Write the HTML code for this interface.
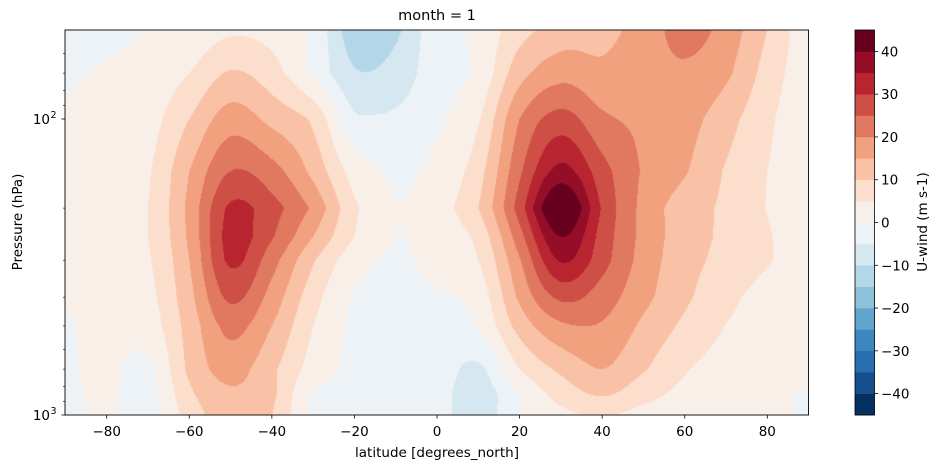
<!DOCTYPE html>
<html><head><meta charset="utf-8"><style>
html,body{margin:0;padding:0;background:#fff;}
#wrap{position:relative;width:942px;height:468px;overflow:hidden;font-family:"DejaVu Sans","Liberation Sans",sans-serif;}
#field{position:absolute;left:65px;top:30px;}
#ov{position:absolute;left:0;top:0;}
text{font-family:"DejaVu Sans","Liberation Sans",sans-serif;fill:#000;}
</style></head><body>
<div id="wrap">
<canvas id="field" width="743" height="385"></canvas>
<svg id="ov" width="942" height="468"></svg>
</div>
<script>
const lats = [-90,-80,-70,-60,-50,-40,-30,-20,-10,0,10,20,30,40,50,60,70,80,90];
const pressureLevels = [1000,850,700,500,400,300,250,200,150,100,70,50];
const u1000 = [-1,0.5,-2,7,13,10,-1,-1,-2,-3,-8,0,3.5,5.5,3,2,1.5,1,-0.5];
const u850  = [-1,1,-2,9,14,11,-0.5,-1,-2,-3,-8,0,7,10.5,7,3.5,2,1,-0.5];
const u700  = [-0.5,1,-1,11,17,11,3,-1,-1.5,-2,-6,5,11,15,10.5,5.5,3,2,1];
const u500  = [-0.5,2,2.5,12,21.5,15,5,-1,-1.5,-1,0.5,12,19,19.5,14,9,4.9,2.5,1];
const u400  = [0.5,2.5,3.5,13.5,26,18,7,-0.5,-1,-0.5,2,16,26,22.5,16.5,11,6.5,3,1];
const u300  = [1.5,3,4.5,15,31,22,10.5,2,-0.5,1.5,5,19.5,35.5,27,18,12,8.5,5.5,2];
const u250  = [2,3,5,16,32,25.5,15,5,0,2.5,6.5,23,40,28,18.5,12.5,9,5.5,2];
const u200  = [2,3,5,16.5,31,27,19,6,0.2,3,10,27.5,47,29.5,18.5,12.5,9,4.8,2];
const u150  = [1.5,3,4.5,15,25,22,13.5,3,-0.5,1.5,8,24,36.5,27,19.5,15.5,9.5,5,2];
const u100  = [0.5,2,3,10,17.5,13.5,9,-4,-4,-1,4.5,20,27,21,19,17,12,6,1.5];
const u70   = [-0.5,0.5,1.5,5,10.5,7,-1,-9.5,-8,-2,1,13,18,16,18,19,16,8,2];
const u50   = [-2,-1,0,1,4,3,-1,-13,-11,-1.5,1,8,12,13.5,17,22,18,10,2];
const windRows = [u1000,u850,u700,u500,u400,u300,u250,u200,u150,u100,u70,u50];
const contourLevels = [-45,-40,-35,-30,-25,-20,-15,-10,-5,0,5,10,15,20,25,30,35,40,45];
const xTicks = [-80,-60,-40,-20,0,20,40,60,80];
const cbTicks = [-40,-30,-20,-10,0,10,20,30,40];

const X0=65.4, X1=808.6, PY0=30, PY1=415;
function xScale(lat){return X0+(lat+90)/180*(X1-X0);}
function yScale(p){return 119+296*(Math.log10(p)-2);}
const cbTop=30, cbBot=415;
function cbScale(v){return cbBot-(v+45)/90*(cbBot-cbTop);}

const anchors=["#053061","#2166ac","#4393c3","#92c5de","#d1e5f0","#f7f7f7","#fddbc7","#f4a582","#d6604d","#b2182b","#67001f"];
function hex(h){return [parseInt(h.slice(1,3),16),parseInt(h.slice(3,5),16),parseInt(h.slice(5,7),16)];}
function cmap(t){const s=t*10;let i=Math.floor(s);if(i>=10)i=9;if(i<0)i=0;const f=s-i;const a=hex(anchors[i]),b=hex(anchors[i+1]);return [0,1,2].map(k=>Math.round(a[k]+(b[k]-a[k])*f));}
const nb=contourLevels.length-1;
const bandColors=[];for(let i=0;i<nb;i++)bandColors.push(cmap(i/(nb-1)));

function rowAt(row,fi){
  const n=row.length;let i=Math.floor(fi);if(i>=n-1)i=n-2;if(i<0)i=0;const t=fi-i;
  const p0=row[Math.max(i-1,0)],p1=row[i],p2=row[i+1],p3=row[Math.min(i+2,n-1)];
  let v=0.5*((2*p1)+(-p0+p2)*t+(2*p0-5*p1+4*p2-p3)*t*t+(-p0+3*p1-3*p2+p3)*t*t*t);
  const lo=Math.min(p1,p2),hi=Math.max(p1,p2);const m=(hi-lo)*0.15+0.5;
  return Math.max(lo-m,Math.min(hi+m,v));
}
const cv=document.getElementById('field');const ctx=cv.getContext('2d');
const img=ctx.createImageData(743,385);
const lpl=pressureLevels.map(p=>Math.log10(p));
for(let py=0;py<385;py++){
  const y=PY0+py+0.5;const lp=2+(y-119)/296;
  let j=0;while(j<lpl.length-2&&lp<lpl[j+1])j++;
  let t=(lpl[j]-lp)/(lpl[j]-lpl[j+1]);t=Math.max(0,Math.min(1,t));
  for(let px=0;px<743;px++){
    const x=65+px+0.5;const lat=-90+(x-X0)/(X1-X0)*180;
    const fi=(lat-lats[0])/10;
    const v=rowAt(windRows[j],fi)*(1-t)+rowAt(windRows[j+1],fi)*t;
    let b=Math.floor((v-contourLevels[0])/5);if(b<0)b=0;if(b>nb-1)b=nb-1;
    const c=bandColors[b];const o=(py*743+px)*4;
    img.data[o]=c[0];img.data[o+1]=c[1];img.data[o+2]=c[2];img.data[o+3]=255;
  }
}
ctx.putImageData(img,0,0);

const NS="http://www.w3.org/2000/svg";const svg=document.getElementById('ov');
function mk(tag,attrs,name,txt,style){const e=document.createElementNS(NS,tag);for(const k in attrs)e.setAttribute(k,attrs[k]);


e.setAttribute('style', 'font-size:'+(style||'13.5px'));
if(txt!==undefined)e.textContent=txt;svg.appendChild(e);return e;}
mk('rect',{x:65,y:30,width:743.5,height:385,fill:'none',stroke:'#000','stroke-width':0.9},'plot-frame');
xTicks.forEach(v=>{const x=xScale(v);
  mk('line',{x1:x,x2:x,y1:415,y2:418.5,stroke:'#000','stroke-width':0.8},'x-tick');
  mk('text',{x:x,y:436,'text-anchor':'middle'},'x-tick-label',v<0?'\u2212'+(-v):String(v));});
[[100,'2'],[1000,'3']].forEach(([p,e])=>{const y=yScale(p);
  mk('line',{x1:61.5,x2:65,y1:y,y2:y,stroke:'#000','stroke-width':0.8},'y-major-tick');
  mk('text',{x:50,y:y+5,'text-anchor':'end'},'y-tick-label','10');
  mk('text',{x:50.5,y:y-1},'y-tick-exponent',e,'9.5px');});
[60,70,80,90,200,300,400,500,600,700,800,900].forEach(p=>{const y=yScale(p);
  mk('line',{x1:63,x2:65,y1:y,y2:y,stroke:'#000','stroke-width':0.6},'y-minor-tick');});
mk('text',{x:437,y:457,'text-anchor':'middle'},'x-axis-title','latitude [degrees_north]');
mk('text',{x:22,y:222,'text-anchor':'middle',transform:'rotate(-90 22 222)'},'y-axis-title','Pressure (hPa)');
mk('text',{x:437,y:20,'text-anchor':'middle'},'chart-title','month = 1','14.5px');
for(let i=0;i<nb;i++){const c=bandColors[i];const y1=cbScale(contourLevels[i+1]),y0=cbScale(contourLevels[i]);
  mk('rect',{x:855,y:y1,width:19.5,height:y0-y1+0.3,fill:'rgb('+c.join(',')+')'},'colorbar-band');}
mk('rect',{x:855,y:30,width:19.5,height:385,fill:'none',stroke:'#000','stroke-width':0.8},'colorbar-frame');
cbTicks.forEach(v=>{const y=cbScale(v);
  mk('line',{x1:874.5,x2:878,y1:y,y2:y,stroke:'#000','stroke-width':0.8},'colorbar-tick');
  mk('text',{x:881,y:y+5},'colorbar-tick-label',v<0?'\u2212'+(-v):String(v));});
mk('text',{x:927,y:222,'text-anchor':'middle',transform:'rotate(-90 927 222)'},'colorbar-label','U-wind (m s-1)');
</script>
</body></html>
